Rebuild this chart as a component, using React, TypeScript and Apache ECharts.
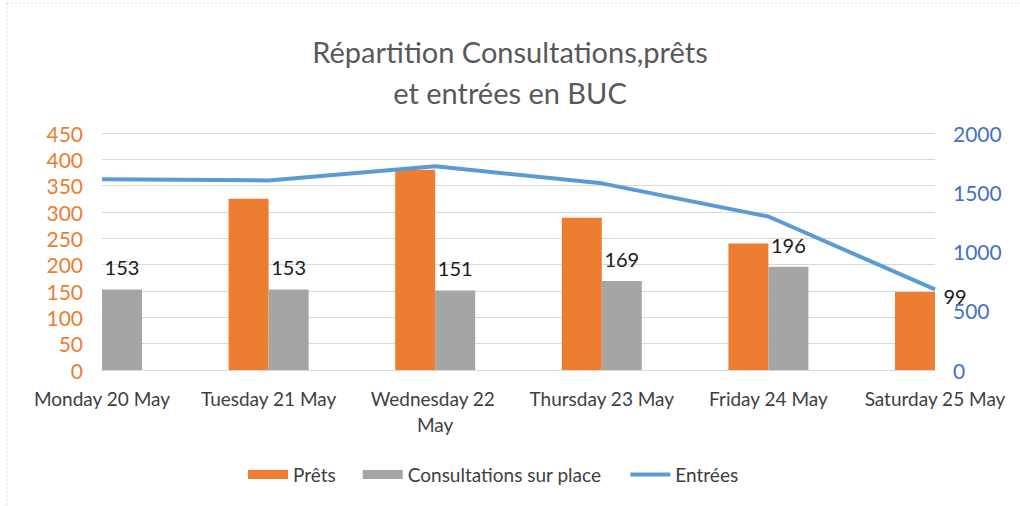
import React, { useEffect, useRef } from "react";
import * as echarts from "echarts";

const categories = [
  "Monday 20 May",
  "Tuesday 21 May",
  "Wednesday 22 May",
  "Thursday 23 May",
  "Friday 24 May",
  "Saturday 25 May",
];
const prets = [395, 325, 380, 289, 240, 148];
const consultations = [153, 153, 151, 169, 196, 99];
const entrees = [1610, 1600, 1720, 1575, 1295, 680];

const FONT = "Lato";
const HIDDEN = { color: "rgba(0,0,0,0)" };

export default function App() {
  const ref = useRef<HTMLDivElement>(null);
  useEffect(() => {
    if (!ref.current) return;
    const chart = echarts.init(ref.current, undefined, { renderer: "svg" });
    const option: any = {
      animation: false,
      backgroundColor: "#ffffff",
      textStyle: { fontFamily: FONT },
      title: {
        text: "Répartition Consultations,prêts\net entrées en BUC",
        left: "center",
        top: 26,
        textStyle: {
          fontFamily: FONT,
          fontSize: 29,
          fontWeight: "normal",
          color: "#595959",
          lineHeight: 41,
        },
      },
      graphic: [
        {
          type: "line",
          shape: { x1: 7, y1: 3, x2: 1020, y2: 3 },
          style: { stroke: "#d9d9d9", lineWidth: 1, lineDash: [2, 2] },
        },
        {
          type: "line",
          shape: { x1: 7, y1: 3, x2: 7, y2: 506 },
          style: { stroke: "#d9d9d9", lineWidth: 1, lineDash: [2, 2] },
        },
      ],
      legend: {
        top: 460,
        left: 243,
        itemWidth: 40,
        itemHeight: 9,
        itemGap: 27,
        textStyle: { fontFamily: FONT, fontSize: 19, color: "#404040" },
        data: [
          { name: "Prêts", icon: "rect" },
          { name: "Consultations sur place", icon: "rect" },
          {
            name: "Entrées",
            itemStyle: { opacity: 0 },
            lineStyle: { width: 4, color: "#5b9bd5" },
          },
        ],
      },
      grid: { left: 102, right: 85, top: 133, bottom: 136 },
      xAxis: {
        type: "category",
        data: categories,
        boundaryGap: false,
        axisLine: { show: true, lineStyle: { color: "#d9d9d9", width: 1 } },
        axisTick: { show: false },
        axisLabel: {
          interval: 0,
          margin: 15,
          fontFamily: FONT,
          fontSize: 19,
          color: "#404040",
          width: 156,
          overflow: "break",
          lineHeight: 26,
        },
      },
      yAxis: [
        {
          type: "value",
          min: 0,
          max: 450,
          interval: 50,
          axisLine: { show: false },
          axisTick: { show: false },
          axisLabel: {
            fontFamily: FONT,
            fontSize: 21,
            color: "#ed7d31",
            margin: 19,
            formatter: (v: number) => String(v),
          },
          splitLine: { lineStyle: { color: "#d9d9d9", width: 1 } },
        },
        {
          type: "value",
          min: 0,
          max: 2000,
          interval: 500,
          axisLine: { show: false },
          axisTick: { show: false },
          axisLabel: {
            fontFamily: FONT,
            fontSize: 21,
            color: "#4472c4",
            margin: 18,
            formatter: (v: number) => String(v),
          },
          splitLine: { show: false },
        },
      ],
      series: [
        {
          name: "Prêts",
          type: "bar",
          yAxisIndex: 0,
          barWidth: 40,
          barGap: "0%",
          data: prets.map((v, i) => (i === 0 ? { value: v, itemStyle: HIDDEN } : v)),
          itemStyle: { color: "#ed7d31" },
        },
        {
          name: "Consultations sur place",
          type: "bar",
          yAxisIndex: 0,
          barWidth: 40,
          barGap: "0%",
          clip: false,
          data: consultations.map((v, i) =>
            i === consultations.length - 1 ? { value: v, itemStyle: HIDDEN } : v
          ),
          itemStyle: { color: "#a5a5a5" },
          label: {
            show: true,
            position: "top",
            distance: 12,
            fontFamily: FONT,
            fontSize: 20,
            color: "#1a1a1a",
          },
        },
        {
          name: "Entrées",
          type: "line",
          yAxisIndex: 1,
          data: entrees,
          symbol: "none",
          lineStyle: { color: "#5b9bd5", width: 4 },
          itemStyle: { color: "#5b9bd5" },
          z: 5,
        },
      ],
    };
    chart.setOption(option);
    return () => chart.dispose();
  }, []);
  return (
    <div
      ref={ref}
      style={{ position: "fixed", left: 0, top: 0, width: 1020, height: 506 }}
    />
  );
}
